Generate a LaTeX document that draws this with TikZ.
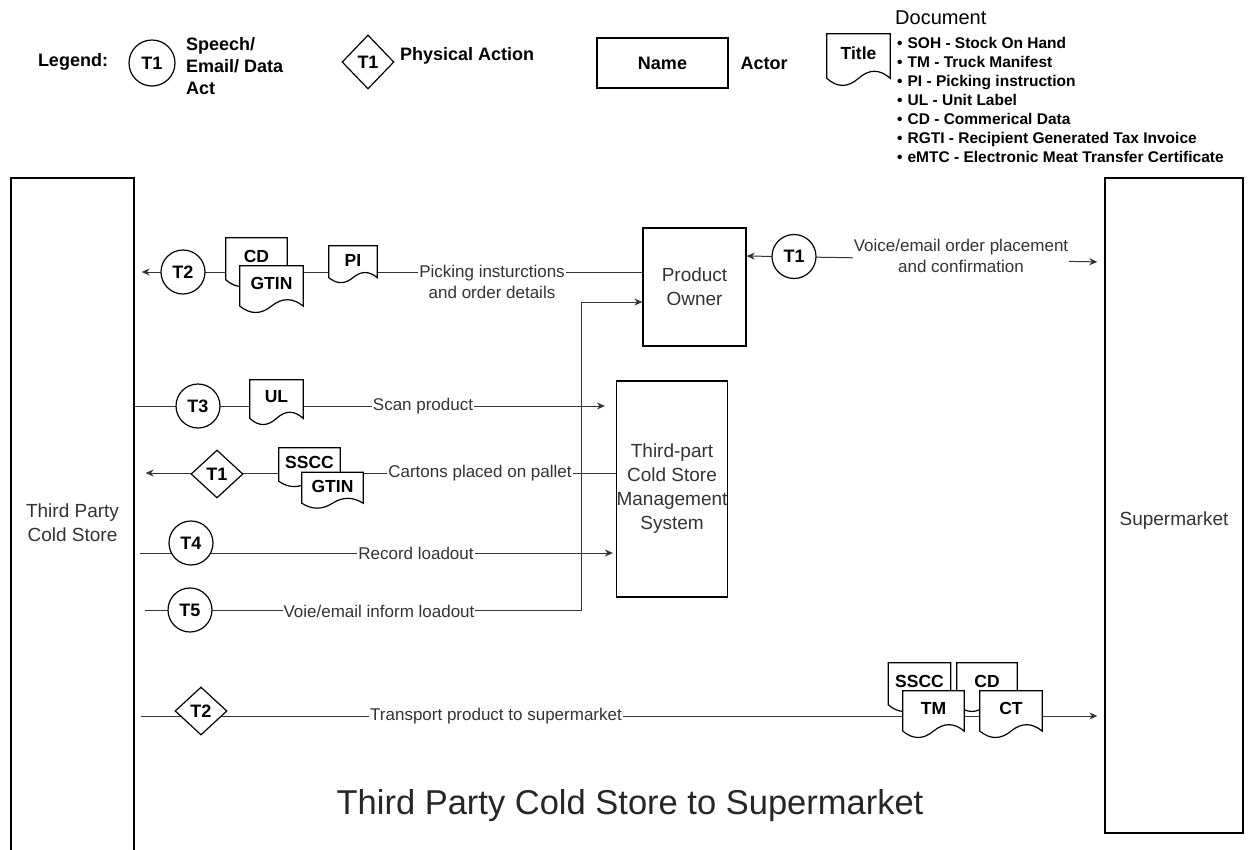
\documentclass[tikz,border=0pt]{standalone}
\usepackage{fontspec}
\setmainfont{Liberation Sans}
\usetikzlibrary{arrows.meta,shapes.geometric,calc}

% document symbol with a wavy bottom, drawn round an empty node
\newcommand{\docshape}[2]{%
  \draw[docline] let \p1=(#1.north west), \p2=(#1.south east), \n1={\x2-\x1}, \n2={0.3*(\y1-\y2)} in
    (\x1,\y1) -- (\x2,\y1) -- (\x2,\y2+0.5*\n2)
    .. controls (\x2-\n1/6,\y2+1.1*\n2) and (\x1+\n1*2/3,\y2+1.1*\n2) .. (\x1+\n1/2,\y2+0.5*\n2)
    .. controls (\x1+\n1/3,\y2-0.1*\n2) and (\x1+\n1/6,\y2-0.1*\n2) .. (\x1,\y2+0.5*\n2) -- cycle;
  \node[doctext] at ($(#1.north)!0.38!(#1.south)$) {#2};}

\tikzset{
  actor/.style={draw, line width=1.3pt, fill=white, align=center, inner sep=0pt,
    text=black!80, font=\fontsize{19}{24}\selectfont},
  act/.style={draw, circle, line width=1.2pt, fill=white, minimum size=44pt, inner sep=0pt,
    font=\bfseries\fontsize{18}{18}\selectfont},
  phys/.style={draw, diamond, line width=1.2pt, fill=white, minimum width=52pt, minimum height=48pt,
    inner sep=0pt, font=\bfseries\fontsize{18}{18}\selectfont},
  docbox/.style={rectangle, inner sep=0pt},
  docline/.style={line width=1.2pt, fill=white},
  doctext/.style={font=\bfseries\fontsize{17.5}{17.5}\selectfont},
  lbl/.style={fill=white, inner sep=1pt, align=center, text=black!80, font=\fontsize{17}{20.5}\selectfont},
  flow/.style={line width=1pt, draw=black!80},
  legtext/.style={inner sep=0pt, font=\bfseries\fontsize{18}{22}\selectfont, align=left},
  item/.style={anchor=west, inner sep=0pt, text height=11pt, text depth=3pt,
    font=\bfseries\fontsize{15.5}{17}\selectfont},
}

\begin{document}
\begin{tikzpicture}[x=1pt, y=-1pt, >={Stealth[length=8pt, width=7pt]}]
  \useasboundingbox (0,0) rectangle (1256,849);

  % legend
  \node[legtext] (legend) at (73,62) {Legend:};
  \node[act, minimum size=46pt] (legact) at (152,63) {T1};
  \node[legtext, anchor=west] (speechlbl) at (186,66) {Speech/\\Email/ Data\\Act};
  \node[phys, minimum width=52pt, minimum height=54pt] (legphys) at (368,62) {T1};
  \node[legtext, anchor=west] (physlbl) at (400,56) {Physical Action};
  \node[draw, line width=1.3pt, minimum width=131pt, minimum height=50pt, legtext] (legname) at (662.5,63) {Name};
  \node[legtext] (actorlbl) at (764,63) {Actor};
  \node[docbox, minimum width=63pt, minimum height=52pt] (legdoc) at (858.5,60) {};
  \docshape{legdoc}{Title}
  \node[anchor=west, inner sep=0pt, font=\fontsize{20}{20}\selectfont] (dochead) at (895,18) {Document};
  \foreach \txt [count=\i] in {SOH - Stock On Hand, TM - Truck Manifest, PI - Picking instruction,
      UL - Unit Label, CD - Commerical Data, RGTI - Recipient Generated Tax Invoice,
      eMTC - Electronic Meat Transfer Certificate}
    \node[item] (item\i) at (897,{44+19*(\i-1)}) {\textbullet\hspace{5pt}\txt};

  % actors
  \node[actor, minimum width=123pt, minimum height=690pt] (store) at (72.5,523) {Third Party\\Cold Store};
  \node[actor, minimum width=138pt, minimum height=655pt] (market) at (1174,505.5) {};
  \node[text=black!80, font=\fontsize{19}{24}\selectfont] (marketlbl) at (1174,521) {Supermarket};
  \node[actor, minimum width=103pt, minimum height=118pt] (po) at (694.5,287) {Product\\Owner};
  \node[actor, minimum width=94pt, minimum height=216pt] (tpcs) at (672,489) {Third-part\\Cold Store\\Management\\System};

  % rows
  \coordinate (rowA) at (0,256);
  \coordinate (rowB) at (0,262);
  \coordinate (row1) at (0,272);
  \coordinate (row3) at (0,406);
  \coordinate (row4) at (0,473);
  \coordinate (row5) at (0,553);
  \coordinate (row7) at (0,716);
  \coordinate (t5start) at (145,610);
  \coordinate (bend) at (581,302);

  % connectors
  \draw[flow, <->, shorten >=7pt] (po.east |- rowA) -- (market.west |- rowB);
  \draw[flow, ->, shorten >=7pt] (po.west |- row1) -- (store.east |- row1);
  \draw[flow, ->] (t5start) -- (bend |- t5start) -- (bend) -- (bend -| po.west);
  \draw[flow, ->, shorten >=11pt] (store.east |- row3) -- (tpcs.west |- row3);
  \draw[flow, ->, shorten >=11pt] (tpcs.west |- row4) -- (store.east |- row4);
  \draw[flow, ->, shorten <=5pt, shorten >=3pt] (store.east |- row5) -- (tpcs.west |- row5);
  \draw[flow, ->, shorten <=6pt, shorten >=7pt] (store.east |- row7) -- (market.west |- row7);

  % acts
  \node[act] (t1a) at (794,256.5) {T1};
  \node[act] (t2a) at (183,272) {T2};
  \node[act] (t3) at (198,406) {T3};
  \node[phys] (t1b) at (217,474) {T1};
  \node[act] (t4) at (191,543) {T4};
  \node[act] (t5) at (190,610) {T5};
  \node[phys] (t2b) at (201,711) {T2};

  % documents
  \node[docbox, minimum width=61pt, minimum height=49pt] (cd1) at (256.5,262.5) {};
  \docshape{cd1}{CD}
  \node[docbox, minimum width=63pt, minimum height=47pt] (gtin1) at (271.5,289.5) {};
  \docshape{gtin1}{GTIN}
  \node[docbox, minimum width=48pt, minimum height=37pt] (pi) at (353,264.5) {};
  \docshape{pi}{PI}
  \node[docbox, minimum width=53pt, minimum height=45pt] (ul) at (276.5,402.5) {};
  \docshape{ul}{UL}
  \node[docbox, minimum width=61pt, minimum height=39pt] (sscc1) at (309.5,467.5) {};
  \docshape{sscc1}{SSCC}
  \node[docbox, minimum width=61pt, minimum height=36pt] (gtin2) at (332.5,490.5) {};
  \docshape{gtin2}{GTIN}
  \node[docbox, minimum width=62pt, minimum height=49pt] (sscc2) at (919.5,687.5) {};
  \docshape{sscc2}{SSCC}
  \node[docbox, minimum width=60pt, minimum height=49pt] (cd2) at (987,687.5) {};
  \docshape{cd2}{CD}
  \node[docbox, minimum width=61pt, minimum height=47pt] (tm) at (933.5,714.5) {};
  \docshape{tm}{TM}
  \node[docbox, minimum width=62pt, minimum height=47pt] (ct) at (1011,714.5) {};
  \docshape{ct}{CT}

  % labels
  \node[lbl] (picklbl) at (492,282) {Picking insturctions\\and order details};
  \node[lbl] (voicelbl) at (961,256) {Voice/email order placement\\and confirmation};
  \node[lbl] (scanlbl) at (423,406) {Scan product};
  \node[lbl] (cartlbl) at (480,473) {Cartons placed on pallet};
  \node[lbl] (loadlbl) at (416,553) {Record loadout};
  \node[lbl] (informlbl) at (379,611) {Voie/email inform loadout};
  \node[lbl] (translbl) at (496,716) {Transport product to supermarket};

  % title
  \node[text=black!85, font=\fontsize{34.5}{34.5}\selectfont] (title) at (630,806) {Third Party Cold Store to Supermarket};
\end{tikzpicture}
\end{document}
